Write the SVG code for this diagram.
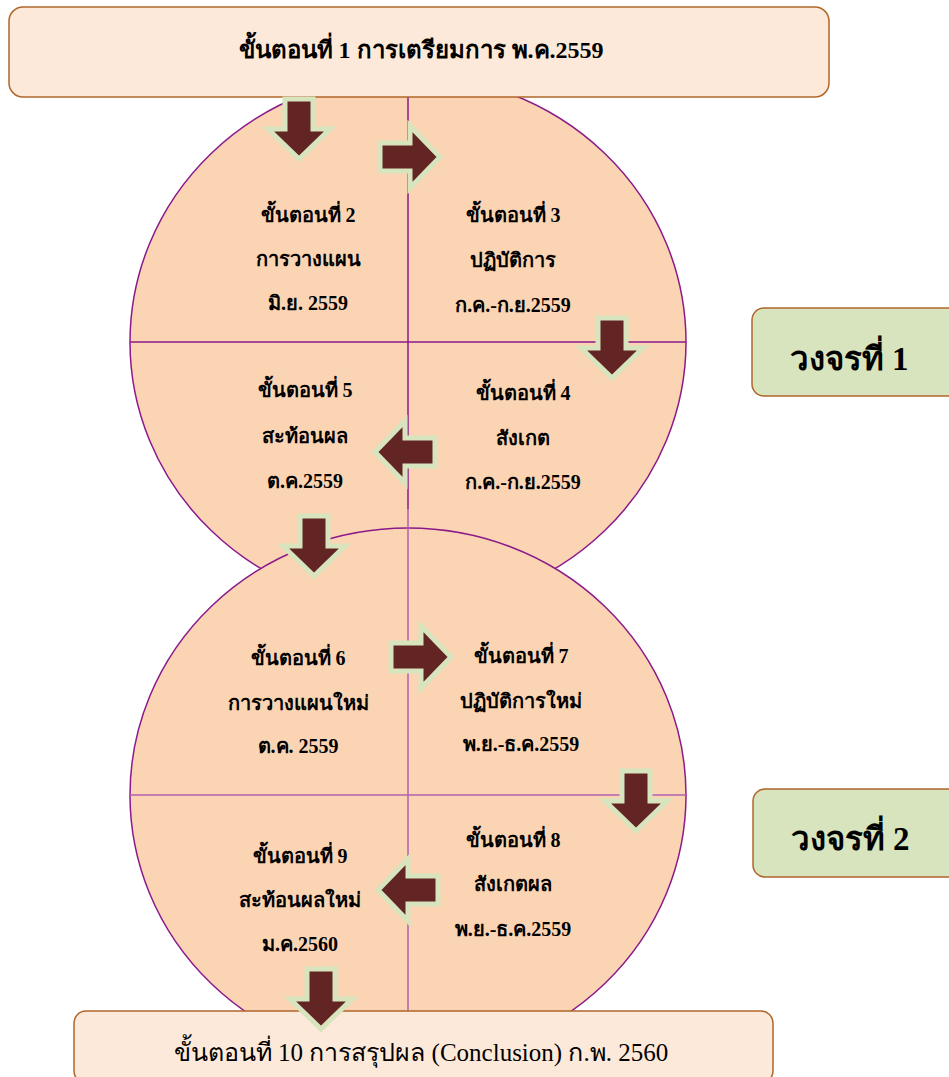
<svg xmlns="http://www.w3.org/2000/svg" width="949" height="1077" viewBox="0 0 949 1077">
<defs>
<style>
.circ{fill:#FBD4B4;stroke:#8B1A8B;stroke-width:1.5}
.l1{stroke:#8B1A8B;stroke-width:1.5;fill:none}
.l2{stroke:#B060B0;stroke-width:1.5;fill:none}
.box{fill:#FDE9D9;stroke:#B0662A;stroke-width:1.5}
.gbox{fill:#D7E4BD;stroke:#B0662A;stroke-width:1.5}
.arr{fill:#632523;stroke:#D7E4BD;stroke-width:5;stroke-linejoin:miter}
text{font-family:"Liberation Serif","DejaVu Serif",serif;fill:#000;text-anchor:middle}
.b{font-weight:bold;font-size:20px}
.t{font-weight:bold;font-size:24px}
.c{font-weight:bold;font-size:33px}
.n{font-size:25px}
</style>
<path id="ar" d="M0,-14 L30,-14 L30,-31 L60,0 L30,31 L30,14 L0,14 Z"/>
</defs>
<g id="cycle1">
<ellipse class="circ" cx="408" cy="342" rx="278" ry="267"/>
<line class="l1" x1="408" y1="75" x2="408" y2="509"/>
<line class="l1" x1="130" y1="342" x2="686" y2="342"/>
</g>
<g id="cycle2">
<ellipse class="circ" cx="408" cy="795" rx="278" ry="267"/>
<line class="l2" x1="408" y1="509" x2="408" y2="1062"/>
<line class="l2" x1="130" y1="795" x2="686" y2="795"/>
</g>
<g id="step1">
<rect class="box" x="9" y="7" width="820" height="90" rx="14"/>
<text class="t" x="421" y="58">ขั้นตอนที่ 1 การเตรียมการ พ.ค.2559</text>
</g>
<g id="step10">
<rect class="box" x="74" y="1011" width="699" height="72" rx="12"/>
<text class="n" x="421" y="1061">ขั้นตอนที่ 10 การสรุปผล (Conclusion) ก.พ. 2560</text>
</g>
<g id="cycle1-label">
<rect class="gbox" x="752" y="308" width="210" height="88" rx="12"/>
<text class="c" x="849" y="370">วงจรที่ 1</text>
</g>
<g id="cycle2-label">
<rect class="gbox" x="753" y="789" width="210" height="88" rx="12"/>
<text class="c" x="850" y="850">วงจรที่ 2</text>
</g>
<g id="connectors">
<use href="#ar" class="arr" transform="translate(299,99) rotate(90)"/>
<use href="#ar" class="arr" transform="translate(380,157)"/>
<use href="#ar" class="arr" transform="translate(612,318) rotate(90)"/>
<use href="#ar" class="arr" transform="translate(435,452) rotate(180)"/>
<use href="#ar" class="arr" transform="translate(314,516) rotate(90)"/>
<use href="#ar" class="arr" transform="translate(391,657)"/>
<use href="#ar" class="arr" transform="translate(636,771) rotate(90)"/>
<use href="#ar" class="arr" transform="translate(438,890) rotate(180)"/>
<use href="#ar" class="arr" transform="translate(321,969) rotate(90)"/>
</g>
<g id="step2">
<text class="b" x="308" y="222">ขั้นตอนที่ 2</text>
<text class="b" x="308" y="266">การวางแผน</text>
<text class="b" x="308" y="310">มิ.ย. 2559</text>
</g>
<g id="step3">
<text class="b" x="513" y="222">ขั้นตอนที่ 3</text>
<text class="b" x="513" y="267">ปฏิบัติการ</text>
<text class="b" x="513" y="312">ก.ค.-ก.ย.2559</text>
</g>
<g id="step4">
<text class="b" x="523" y="400">ขั้นตอนที่ 4</text>
<text class="b" x="523" y="445">สังเกต</text>
<text class="b" x="523" y="489">ก.ค.-ก.ย.2559</text>
</g>
<g id="step5">
<text class="b" x="305" y="397">ขั้นตอนที่ 5</text>
<text class="b" x="305" y="443">สะท้อนผล</text>
<text class="b" x="305" y="488">ต.ค.2559</text>
</g>
<g id="step6">
<text class="b" x="298" y="665">ขั้นตอนที่ 6</text>
<text class="b" x="298" y="710">การวางแผนใหม่</text>
<text class="b" x="298" y="753">ต.ค. 2559</text>
</g>
<g id="step7">
<text class="b" x="521" y="663">ขั้นตอนที่ 7</text>
<text class="b" x="521" y="708">ปฏิบัติการใหม่</text>
<text class="b" x="521" y="751">พ.ย.-ธ.ค.2559</text>
</g>
<g id="step8">
<text class="b" x="513" y="847">ขั้นตอนที่ 8</text>
<text class="b" x="513" y="891">สังเกตผล</text>
<text class="b" x="513" y="936">พ.ย.-ธ.ค.2559</text>
</g>
<g id="step9">
<text class="b" x="300" y="863">ขั้นตอนที่ 9</text>
<text class="b" x="300" y="907">สะท้อนผลใหม่</text>
<text class="b" x="300" y="951">ม.ค.2560</text>
</g>
</svg>
